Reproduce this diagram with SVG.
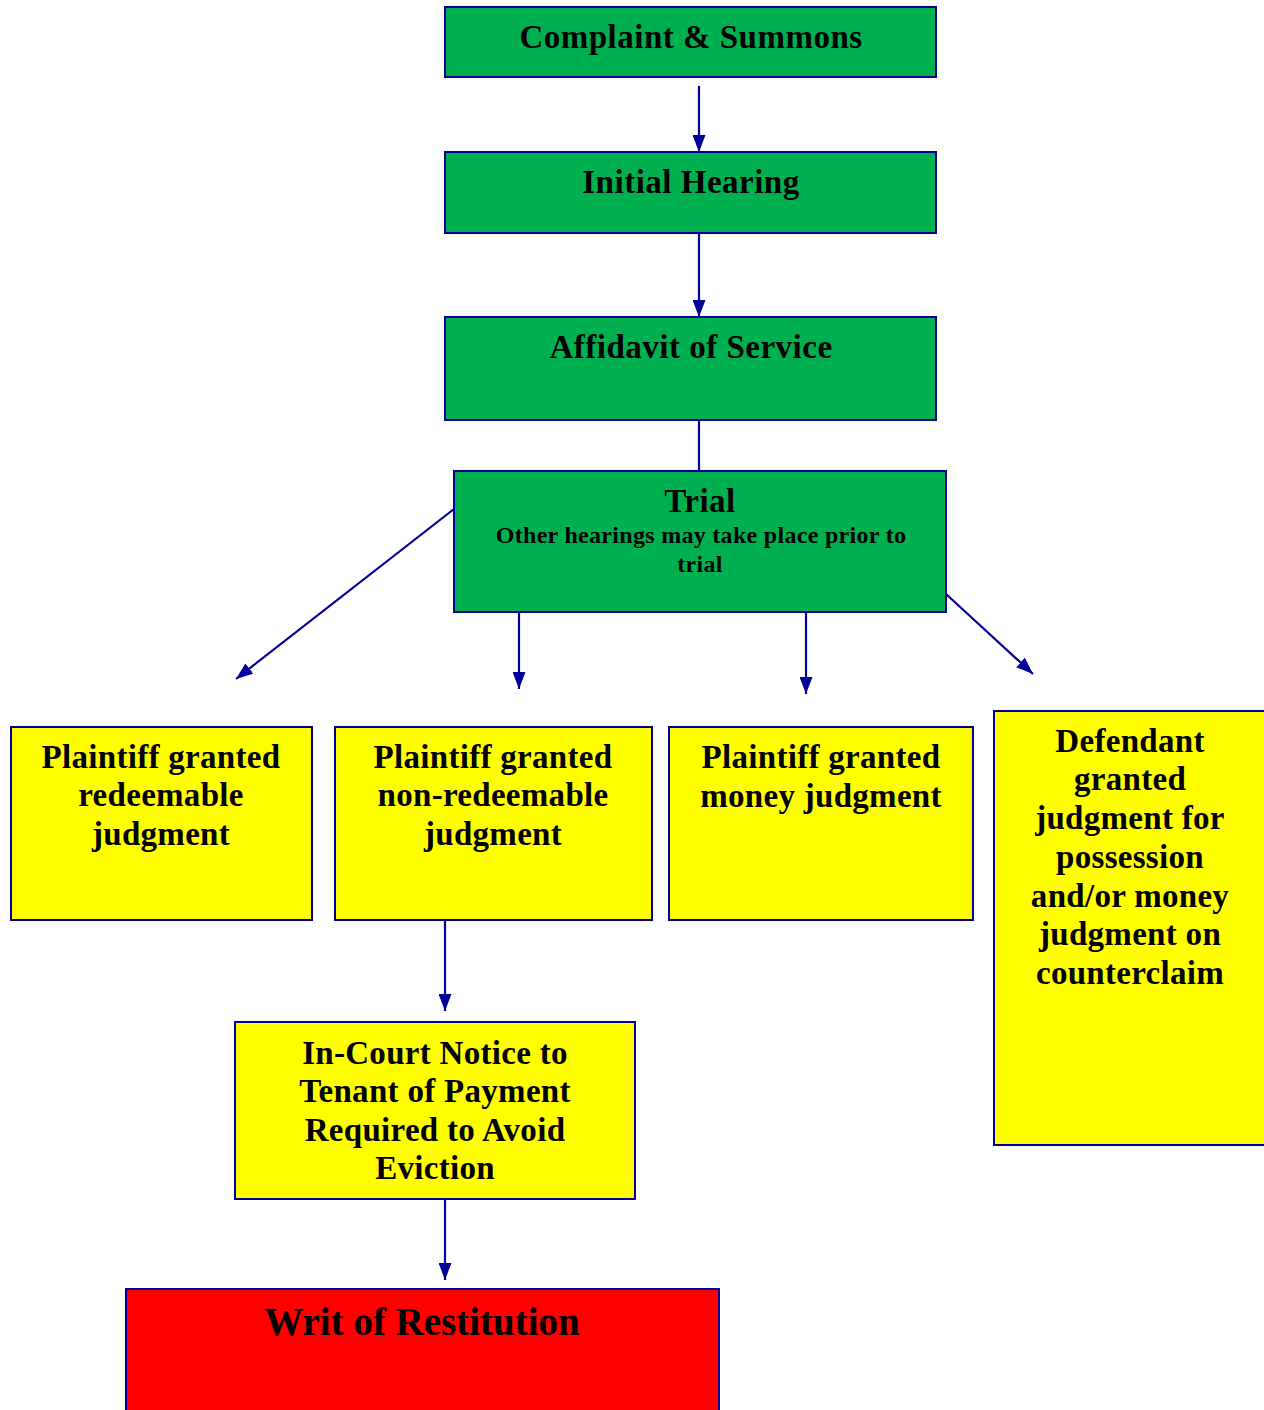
<svg xmlns="http://www.w3.org/2000/svg" width="1264" height="1410" viewBox="0 0 1264 1410">
<style>
.box{stroke:#000099;stroke-width:2}
.g{fill:#00B050}
.y{fill:#FFFF00}
.r{fill:#FF0000}
text{font-family:"Liberation Serif","Times New Roman",serif;font-weight:bold;fill:#000;text-anchor:middle}
.t{font-size:33px;letter-spacing:0.5px}
.s{font-size:24px;letter-spacing:0.3px}
.b{font-size:33px;letter-spacing:0.3px}
.w{font-size:39px}
.c line{stroke:#000099;stroke-width:2.2}
.c .a{marker-end:url(#ah)}
</style>
<defs>
<marker id="ah" viewBox="0 0 17 13" refX="17" refY="6.5" markerWidth="17" markerHeight="13" orient="auto" markerUnits="userSpaceOnUse">
<path d="M0,0 L17,6.5 L0,13 z" fill="#000099"/>
</marker>
</defs>
<rect width="1264" height="1410" fill="#fff"/>
<g class="c" id="connectors">
<line class="a" x1="699" y1="86" x2="699" y2="152"/>
<line class="a" x1="699" y1="233" x2="699" y2="317"/>
<line x1="699" y1="420" x2="699" y2="471"/>
<line class="a" x1="454" y1="509" x2="236" y2="679"/>
<line class="a" x1="519" y1="612" x2="519" y2="689"/>
<line class="a" x1="806" y1="612" x2="806" y2="694"/>
<line class="a" x1="946" y1="594" x2="1033" y2="674"/>
<line class="a" x1="445" y1="920" x2="445" y2="1011"/>
<line class="a" x1="445" y1="1199" x2="445" y2="1280"/>
</g>
<g id="complaint">
<rect class="box g" x="445" y="7" width="491" height="70"/>
<text class="t" x="691" y="48">Complaint &amp; Summons</text>
</g>
<g id="initial">
<rect class="box g" x="445" y="152" width="491" height="81"/>
<text class="t" x="691" y="193">Initial Hearing</text>
</g>
<g id="affidavit">
<rect class="box g" x="445" y="317" width="491" height="103"/>
<text class="t" x="691" y="358">Affidavit of Service</text>
</g>
<g id="trial">
<rect class="box g" x="454" y="471" width="492" height="141"/>
<text class="t" x="700" y="512">Trial</text>
<text class="s" x="701" y="543">Other hearings may take place prior to</text>
<text class="s" x="700" y="572">trial</text>
</g>
<g id="redeemable">
<rect class="box y" x="11" y="727" width="301" height="193"/>
<text class="b" x="161" y="768">Plaintiff granted</text>
<text class="b" x="161" y="806">redeemable</text>
<text class="b" x="161" y="845">judgment</text>
</g>
<g id="nonredeemable">
<rect class="box y" x="335" y="727" width="317" height="193"/>
<text class="b" x="493" y="768">Plaintiff granted</text>
<text class="b" x="493" y="806">non-redeemable</text>
<text class="b" x="493" y="845">judgment</text>
</g>
<g id="money">
<rect class="box y" x="669" y="727" width="304" height="193"/>
<text class="b" x="821" y="768">Plaintiff granted</text>
<text class="b" x="821" y="807">money judgment</text>
</g>
<g id="defendant">
<rect class="box y" x="994" y="711" width="275" height="434"/>
<text class="b" x="1130" y="752">Defendant</text>
<text class="b" x="1130" y="790">granted</text>
<text class="b" x="1130" y="829">judgment for</text>
<text class="b" x="1130" y="868">possession</text>
<text class="b" x="1130" y="907">and/or money</text>
<text class="b" x="1130" y="945">judgment on</text>
<text class="b" x="1130" y="984">counterclaim</text>
</g>
<g id="notice">
<rect class="box y" x="235" y="1022" width="400" height="177"/>
<text class="b" x="435" y="1064">In-Court Notice to</text>
<text class="b" x="435" y="1102">Tenant of Payment</text>
<text class="b" x="435" y="1141">Required to Avoid</text>
<text class="b" x="435" y="1179">Eviction</text>
</g>
<g id="writ">
<rect class="box r" x="126" y="1289" width="593" height="130"/>
<text class="w" x="422" y="1335">Writ of Restitution</text>
</g>
</svg>
